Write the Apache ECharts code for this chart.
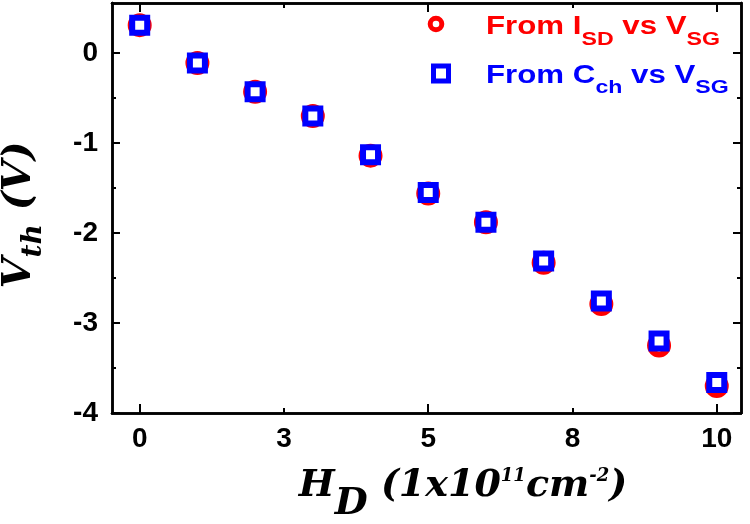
<!DOCTYPE html>
<html>
<head>
  <meta charset="UTF-8">
  <title>Vth vs HD</title>
  <style>
    html, body { margin: 0; padding: 0; background: #fff; }
    #chart { width: 750px; height: 524px; }
  </style>
  <script src="https://cdn.jsdelivr.net/npm/echarts@6/dist/echarts.min.js"></script>
</head>
<body>
  <div id="chart"></div>
  <script>
    // data
    var hd = [0, 1, 2, 3, 4, 5, 6, 7, 8, 9, 10];
    var vthIsd = [0.31, -0.11, -0.43, -0.70, -1.14, -1.56, -1.88, -2.33, -2.79, -3.25, -3.70];
    var vthCch = [0.31, -0.11, -0.43, -0.70, -1.13, -1.55, -1.88, -2.31, -2.755, -3.20, -3.66];
    var xMajor = [0, 5, 10];
    var xMinor = [2.5, 7.5];
    var xLabels = [0, 2.5, 5, 7.5, 10];
    var yMajor = [-4, -3, -2, -1, 0];
    var yMinor = [-3.5, -2.5, -1.5, -0.5];

    var RED = '#ff0000', BLUE = '#0000ff';
    var sans = '"Liberation Sans", Arial, sans-serif';
    var serif = '"DejaVu Serif", serif';

    function pairs(xs, ys) {
      return xs.map(function (x, i) { return [x, ys[i]]; });
    }

    // one axis per side and per tick size (major / minor)
    function xAx(pos, ticks, len, labels) {
      return {
        type: 'value', position: pos, min: -0.48, max: 10.42,
        axisLine: { show: true, onZero: false, lineStyle: { color: '#000', width: 2.5 } },
        axisTick: { show: true, inside: true, length: len, customValues: ticks, lineStyle: { color: '#000', width: 2 } },
        axisLabel: labels ? {
          show: true, customValues: labels, margin: 12,
          color: '#000', fontSize: 28, fontWeight: 'bold', fontFamily: sans,
          formatter: function (v) { return String(Math.round(v)); }
        } : { show: false },
        splitLine: { show: false }
      };
    }
    function yAx(pos, ticks, len, labels) {
      return {
        type: 'value', position: pos, min: -4, max: 0.556,
        axisLine: { show: true, onZero: false, lineStyle: { color: '#000', width: 2.5 } },
        axisTick: { show: true, inside: true, length: len, customValues: ticks, lineStyle: { color: '#000', width: 2 } },
        axisLabel: labels ? {
          show: true, customValues: labels, margin: 14,
          color: '#000', fontSize: 28, fontWeight: 'bold', fontFamily: sans
        } : { show: false },
        splitLine: { show: false }
      };
    }

    var main = { fontSize: 38, lineHeight: 40, fontWeight: 'bold', fontStyle: 'italic', fontFamily: serif, fill: '#000', verticalAlign: 'top' };
    function tok(extra) { return Object.assign({}, main, extra); }

    var legMain = { fontSize: 25, lineHeight: 26, fontWeight: 'bold', fontFamily: sans, verticalAlign: 'top' };
    function legRich(color) {
      return {
        m: Object.assign({}, legMain, { fill: color }),
        s: Object.assign({}, legMain, { fontSize: 18.5, lineHeight: 18, padding: [15, 0, 0, 0], fill: color })
      };
    }

    var chart = echarts.init(document.getElementById('chart'));
    chart.setOption({
      animation: false,
      grid: { left: 112, right: 9, top: 3, bottom: 111 },
      xAxis: [
        xAx('bottom', xMajor, 9, xLabels),
        xAx('bottom', xMinor, 5, null),
        xAx('top', xMajor, 9, null),
        xAx('top', xMinor, 5, null)
      ],
      yAxis: [
        yAx('left', yMajor, 8, yMajor),
        yAx('left', yMinor, 4, null),
        yAx('right', yMajor, 8, null),
        yAx('right', yMinor, 4, null)
      ],
      series: [
        {
          name: 'From ISD vs VSG', type: 'scatter', data: pairs(hd, vthIsd),
          symbol: 'circle', symbolSize: 18,
          itemStyle: { color: '#fff', borderColor: RED, borderWidth: 6, opacity: 1 }
        },
        {
          name: 'From Cch vs VSG', type: 'scatter', data: pairs(hd, vthCch),
          symbol: 'rect', symbolSize: 15,
          itemStyle: { color: '#fff', borderColor: BLUE, borderWidth: 6, opacity: 1 }
        }
      ],
      graphic: [
        // legend
        { type: 'circle', shape: { cx: 436, cy: 24, r: 5.8 }, style: { fill: '#fff', stroke: RED, lineWidth: 5 } },
        { type: 'rect', shape: { x: 433.5, y: 66, width: 15, height: 15 }, style: { fill: '#fff', stroke: BLUE, lineWidth: 5 } },
        {
          type: 'text', x: 486, y: 15, scaleX: 1.25,
          style: { text: '{m|From I}{s|SD}{m| vs V}{s|SG}', rich: legRich(RED), fill: RED }
        },
        {
          type: 'text', x: 486, y: 63.5, scaleX: 1.25,
          style: { text: '{m|From C}{s|ch}{m| vs V}{s|SG}', rich: legRich(BLUE), fill: BLUE }
        },
        // axis titles
        {
          type: 'text', x: 463, y: 467,
          style: {
            text: '{m|H}{d|D}{m| (1x10}{p|11}{m|cm}{p|-2}{m|)}',
            align: 'center', verticalAlign: 'top',
            rich: {
              m: tok({}),
              d: tok({ padding: [18, 0, 0, 0] }),
              p: tok({ fontSize: 18, lineHeight: 18, padding: [0, 0, 0, 0] })
            }
          }
        },
        {
          type: 'text', x: 0, y: 215, rotation: Math.PI / 2,
          style: {
            text: '{m|V}{s|th}{m| (V)}',
            align: 'center', verticalAlign: 'top',
            rich: {
              m: tok({ fontSize: 40, lineHeight: 42 }),
              s: tok({ fontSize: 28, lineHeight: 28, padding: [20, 0, 0, 0] })
            }
          }
        }
      ]
    });
  </script>
</body>
</html>
